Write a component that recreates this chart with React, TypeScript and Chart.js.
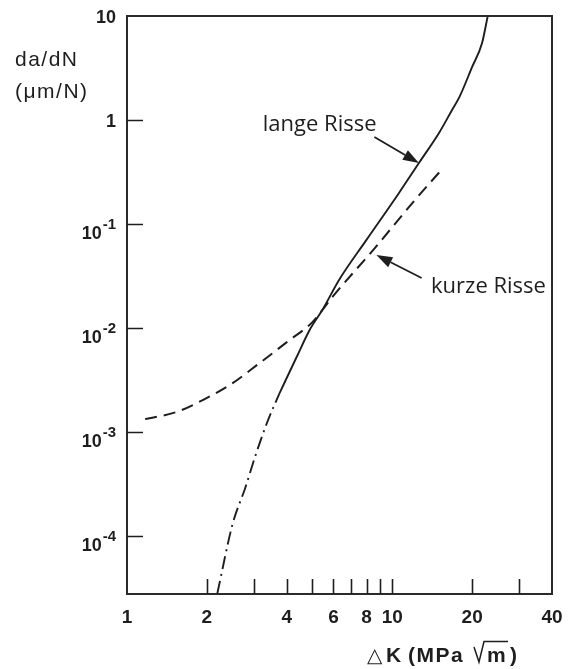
import { useEffect, useRef } from "react";
import { Chart, registerables } from "chart.js";

Chart.register(...registerables);

// Long cracks (solid)
const deltaKLong = [3.76, 4.36, 4.88, 5.45, 6.3, 7.98, 10.6, 12.6, 15.0, 16.8, 17.9, 20.0, 21.8, 22.9];
const rateLong = [2.37e-3, 5.26e-3, 9.57e-3, 0.0149, 0.029, 0.07, 0.199, 0.386, 0.75, 1.25, 1.66, 3.24, 5.5, 10];

// Long cracks, near-threshold extrapolation (dash-dot)
const deltaKThreshold = [2.19, 2.5, 2.79, 3.04, 3.36, 3.76];
const rateThreshold = [2.8e-5, 1.3e-4, 2.9e-4, 5.8e-4, 1.2e-3, 2.37e-3];

// Short cracks (dashed)
const deltaKShort = [1.17, 1.54, 1.93, 2.44, 3.16, 4.0, 5.0, 5.45, 5.95, 8.56, 11.9, 15.3];
const rateShort = [1.33e-3, 1.56e-3, 2.03e-3, 2.83e-3, 4.6e-3, 7.3e-3, 0.0114, 0.0149, 0.0199, 0.058, 0.159, 0.33];

// Axis ticks
const xTickValues = [2, 3, 4, 5, 6, 7, 8, 9, 10, 20, 30];
const xTickLabels = [1, 2, 4, 6, 8, 10, 20, 40];
const yTickExponents = [-4, -3, -2, -1, 0];
const yLabelExponents = [-4, -3, -2, -1, 0, 1];

// Annotation labels with arrows: text anchor, arrow tail, arrow tip (data units)
const annotationTexts = ["lange Risse", "kurze Risse"];
const annotationTextAt = [[3.25, 0.895], [14.0, 0.0248]];
const annotationTail = [[8.56, 0.687], [12.9, 0.0303]];
const annotationTip = [[12.6, 0.386], [8.71, 0.0503]];

const xMin = 1;
const xMax = 40;
const yMin = 2.77e-5;
const yMax = 10;

const ink = "#1e1e1e";
const labelFont = '"Liberation Sans", Arial, Helvetica, sans-serif';
const noteFont = '"Open Sans", "Noto Sans", sans-serif';

function toPoints(xs: number[], ys: number[]) {
  return xs.map((x, i) => ({ x, y: ys[i] }));
}

const decorPlugin = {
  id: "decor",
  afterDraw(chart: any) {
    const { ctx, chartArea } = chart;
    const xs = chart.scales.x;
    const ys = chart.scales.y;
    const { left, right, top, bottom } = chartArea;
    ctx.save();

    // frame
    ctx.strokeStyle = "#2b2b2b";
    ctx.lineWidth = 2;
    ctx.strokeRect(left, top, right - left, bottom - top);

    // x ticks (pointing inward)
    ctx.lineWidth = 1.6;
    ctx.strokeStyle = ink;
    ctx.beginPath();
    xTickValues.forEach((v) => {
      const px = Math.round(xs.getPixelForValue(v)) + 0.5;
      ctx.moveTo(px, bottom);
      ctx.lineTo(px, bottom - 15);
    });
    // y ticks
    yTickExponents.forEach((e) => {
      const py = Math.round(ys.getPixelForValue(Math.pow(10, e))) + 0.5;
      ctx.moveTo(left, py);
      ctx.lineTo(left + 16, py);
    });
    ctx.stroke();

    // x tick labels
    ctx.fillStyle = ink;
    ctx.font = `bold 19px ${labelFont}`;
    ctx.textAlign = "center";
    ctx.textBaseline = "alphabetic";
    xTickLabels.forEach((v) => {
      const px = xs.getPixelForValue(v);
      ctx.fillText(String(v), px, 623);
    });

    // y tick labels (powers of ten)
    const labelRight = 116;
    yLabelExponents.forEach((e) => {
      const py = ys.getPixelForValue(Math.pow(10, e));
      if (e === 1 || e === 0) {
        ctx.font = `bold 18px ${labelFont}`;
        ctx.textAlign = "right";
        ctx.fillText(e === 1 ? "10" : "1", labelRight, py + 7);
      } else {
        ctx.font = `bold 15px ${labelFont}`;
        ctx.textAlign = "right";
        const sup = String(e);
        ctx.fillText(sup, labelRight, py + 5);
        const supW = ctx.measureText(sup).width;
        ctx.font = `bold 18px ${labelFont}`;
        ctx.fillText("10", labelRight - supW - 1, py + 15);
      }
    });

    // y axis title
    ctx.textAlign = "left";
    ctx.font = `21px ${labelFont}`;
    (ctx as any).letterSpacing = "1.5px";
    ctx.fillText("da/dN", 15, 66);
    ctx.fillText("(\u03bcm/N)", 15, 98);
    (ctx as any).letterSpacing = "0px";

    // x axis title: "△K (MPa√m)" with a drawn radical
    const base = 662;
    ctx.font = `20px "DejaVu Sans", sans-serif`;
    ctx.fillText("\u25b3", 367, base);
    ctx.font = `bold 21px ${labelFont}`;
    ctx.fillText("K", 386, base);
    (ctx as any).letterSpacing = "1.5px";
    ctx.fillText("(MPa", 408, base);
    (ctx as any).letterSpacing = "0px";
    ctx.fillText("m", 487, base);
    ctx.fillText(")", 510, base);
    ctx.lineWidth = 1.5;
    ctx.beginPath();
    ctx.moveTo(474, 647);
    ctx.lineTo(479, 662);
    ctx.lineTo(484, 641.5);
    ctx.lineTo(508, 641.5);
    ctx.stroke();

    // annotation labels with arrows
    ctx.font = `22px ${noteFont}`;
    ctx.textAlign = "left";
    ctx.textBaseline = "middle";
    annotationTexts.forEach((t, i) => {
      const tx = xs.getPixelForValue(annotationTextAt[i][0]);
      const ty = ys.getPixelForValue(annotationTextAt[i][1]);
      ctx.fillText(t, tx, ty);
      const ax = xs.getPixelForValue(annotationTail[i][0]);
      const ay = ys.getPixelForValue(annotationTail[i][1]);
      const bx = xs.getPixelForValue(annotationTip[i][0]);
      const by = ys.getPixelForValue(annotationTip[i][1]);
      const ang = Math.atan2(by - ay, bx - ax);
      const headLen = 16;
      const headHalf = 5.5;
      const hx = bx - headLen * Math.cos(ang);
      const hy = by - headLen * Math.sin(ang);
      ctx.lineWidth = 1.8;
      ctx.beginPath();
      ctx.moveTo(ax, ay);
      ctx.lineTo(hx, hy);
      ctx.stroke();
      ctx.beginPath();
      ctx.moveTo(bx, by);
      ctx.lineTo(hx - headHalf * Math.sin(ang), hy + headHalf * Math.cos(ang));
      ctx.lineTo(hx + headHalf * Math.sin(ang), hy - headHalf * Math.cos(ang));
      ctx.closePath();
      ctx.fill();
    });

    ctx.restore();
  },
};

export default function App() {
  const canvasRef = useRef<HTMLCanvasElement | null>(null);

  useEffect(() => {
    document.body.style.margin = "0";
    const canvas = canvasRef.current;
    if (!canvas) return;
    const chart = new Chart(canvas, {
      type: "line",
      data: {
        datasets: [
          {
            label: "lange Risse",
            data: toPoints(deltaKLong, rateLong),
            borderColor: ink,
            borderWidth: 1.9,
            pointRadius: 0,
            cubicInterpolationMode: "monotone",
            fill: false,
          },
          {
            label: "Schwellenbereich",
            data: toPoints(deltaKThreshold, rateThreshold),
            borderColor: ink,
            borderWidth: 1.9,
            borderDash: [13, 5, 2, 5],
            pointRadius: 0,
            cubicInterpolationMode: "monotone",
            fill: false,
          },
          {
            label: "kurze Risse",
            data: toPoints(deltaKShort, rateShort),
            borderColor: ink,
            borderWidth: 2,
            borderDash: [12, 7],
            pointRadius: 0,
            cubicInterpolationMode: "monotone",
            fill: false,
          },
        ],
      },
      options: {
        animation: false,
        responsive: true,
        maintainAspectRatio: false,
        layout: { padding: { left: 127, right: 16, top: 16, bottom: 75 } },
        plugins: { legend: { display: false }, tooltip: { enabled: false } },
        scales: {
          x: { type: "logarithmic", min: xMin, max: xMax, display: false },
          y: { type: "logarithmic", min: yMin, max: yMax, display: false },
        },
      },
      plugins: [decorPlugin],
    });
    return () => chart.destroy();
  }, []);

  return (
    <div style={{ position: "relative", width: 568, height: 669, background: "#fff" }}>
      <canvas ref={canvasRef} />
    </div>
  );
}
